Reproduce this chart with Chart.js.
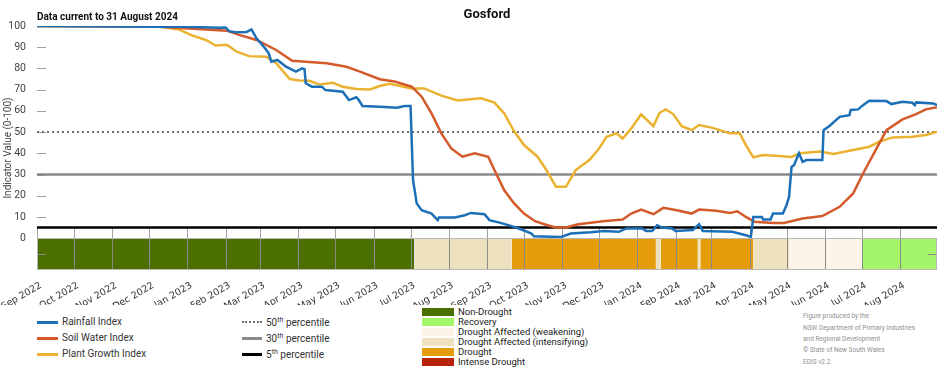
<!DOCTYPE html>
<html><head><meta charset="utf-8">
<script src="https://cdn.jsdelivr.net/npm/chart.js@4/dist/chart.umd.min.js"></script>
<style>
body{margin:0;background:#fff;width:952px;height:370px;position:relative;overflow:hidden;font-family:Roboto,"Liberation Sans",sans-serif;}
#c{position:absolute;left:0;top:0;}
.t{position:absolute;white-space:nowrap;color:#222;line-height:12px;}
.sw{position:absolute;}
sup{font-size:7px;line-height:0;vertical-align:4px;}
</style></head>
<body>
<canvas id="c" width="952" height="305"></canvas>
<div class="t" style="left:437px;width:100px;text-align:center;top:8px;font-weight:bold;font-size:13px;color:#111;">Gosford</div>
<div class="t" style="left:37px;top:11px;font-weight:bold;font-size:10px;color:#111;">Data current to 31 August 2024</div>
<div id="legend"></div>
<script>
// ---------- DATA ----------
const tickLabels = ["Sep 2022","Oct 2022","Nov 2022","Dec 2022","Jan 2023","Feb 2023","Mar 2023","Apr 2023","May 2023","Jun 2023","Jul 2023","Aug 2023","Sep 2023","Oct 2023","Nov 2023","Dec 2023","Jan 2024","Feb 2024","Mar 2024","Apr 2024","May 2024","Jun 2024","Jul 2024","Aug 2024"];
const yTicks = [0,10,20,30,40,50,60,70,80,90,100];
// x values are days since 1 Sep 2022
const rainDay = [0,100,121,148,153,156,162,170,174,178,184,188,190,195,202,210,215,217,218,223,231,234,248,253,259,261,264,278,292,298,303,305,308,312,320,325,326,339,347,352,363,367,376,385,393,401,403,425,433,449,460,472,478,491,494,499,503,507,515,518,532,537,540,564,575,579,581,588,589,595,597,605,608,610,612,614,618,621,624,637,638,643,651,659,660,666,670,675,689,693,702,710,712,713,727,730];
const rainVal = [100,99.7,99.6,99.2,99.3,97.5,97,97.2,98.4,94.2,90.2,87.1,83.2,84,80.8,78.5,80,79.6,73,71.4,71.4,69.8,69,65.1,66.4,65.1,62.3,61.9,61.5,62.3,62.3,27.4,16.4,13.2,11.6,8.5,9.8,9.8,10.8,11.9,11.3,8.5,7.2,5.7,4.1,2.2,0.9,0.6,2.2,2.8,3.4,3.0,4.6,4.6,3.4,3.4,6.1,5.0,4.6,3.4,3.8,6.6,3.4,3.0,1.4,0.6,10,10,8.8,8.8,11.6,11.6,15.6,19.5,33.6,34.4,40,36,36.8,36.8,50.9,53,57.2,58,60.4,60.7,62.7,64.8,64.6,63.2,64.3,63.8,62.7,64,63.5,62.7];
const soilDay = [0,99,137,154,164,178,194,207,218,235,251,262,278,290,304,312,320,328,336,345,355,366,371,379,387,395,404,414,421,429,439,459,475,482,490,500,508,519,531,537,551,562,568,575,582,597,606,621,637,651,662,670,681,689,702,713,721,730];
const soilVal = [100,99.7,98.4,97.8,95.8,93.4,88.7,83.6,83.2,82.4,80.8,78.5,74.9,73.8,71.4,66.7,58.8,49.4,42.3,38.4,40,38.4,32.1,22.6,16.4,11.6,8,6.1,5,5,6.6,8,8.8,11.6,13.5,11.3,14.3,13.2,11.6,13.5,12.9,11.9,12.7,10,7.7,7.2,7.2,9.3,10.4,14.8,21.1,30.5,42.3,50.9,56,58.5,60.7,61.7];
const plantDay = [0,99,115,126,137,145,154,162,172,186,194,205,213,221,229,240,248,259,270,278,286,304,314,328,341,360,371,379,387,395,406,414,421,429,437,448,455,462,470,475,482,490,500,505,510,516,523,531,537,548,562,570,575,581,589,602,612,619,635,646,659,675,683,694,710,721,730];
const plantVal = [100,99.8,98.4,95.5,93.4,90.8,91.2,87.9,85.8,85.5,82.5,75,74.3,74.2,72.4,73.2,71.4,70.3,70.1,71.7,72.8,70.6,70.6,67.2,64.9,65.9,63.9,58.8,50.4,43.9,38.4,31.3,24.2,24.2,32.1,36.8,41.5,47.8,49.4,47,51.7,58.3,52.8,59.1,60.7,58.5,52.8,50.9,53.3,52,49.4,49.4,43.9,38.1,39.2,38.7,38.3,40,40.8,39.7,41.2,43.1,45.4,47.5,47.8,48.6,50.2];
const percentileValues = [50,30,5];
const percentileNames = ["50th percentile","30th percentile","5th percentile"];
const bandStart = [0,306,385,502,506,536,538,581,610,669];
const bandEnd   = [306,385,502,506,536,538,581,610,669,730];
const bandStatus = ["Non-Drought","Drought Affected (intensifying)","Drought","Drought Affected (intensifying)","Drought","Drought Affected (intensifying)","Drought","Drought Affected (intensifying)","Drought Affected (weakening)","Recovery"];
const statusNames = ["Non-Drought","Recovery","Drought Affected (weakening)","Drought Affected (intensifying)","Drought","Intense Drought"];

// ---------- STYLE ----------
const statusColors = {"Non-Drought":"#4b7000","Recovery":"#a5f56b","Drought Affected (weakening)":"#fcf4e7","Drought Affected (intensifying)":"#ede1bf","Drought":"#e49c0b","Intense Drought":"#b9230b"};
const seriesNames = ["Rainfall Index","Soil Water Index","Plant Growth Index"];
const seriesColors = ["#1d70b7","#d35a2a","#ebb22f"];
const pctStyles = [{c:"#707070",w:2,dash:[2,3]},{c:"#8a8a8a",w:2.5,dash:[]},{c:"#000000",w:2.5,dash:[]}];

const monthIdx = {Jan:0,Feb:1,Mar:2,Apr:3,May:4,Jun:5,Jul:6,Aug:7,Sep:8,Oct:9,Nov:10,Dec:11};
const t0 = Date.UTC(2022,8,1);
const tickDays = tickLabels.map(l=>{const [m,y]=l.split(" ");return Math.round((Date.UTC(+y,monthIdx[m],1)-t0)/864e5);});
const XMAX = 730, YMIN = -15;
const pts = (xs,ys)=>xs.map((x,i)=>({x:x,y:ys[i]}));

const datasets = [];
[[rainDay,rainVal],[soilDay,soilVal],[plantDay,plantVal]].forEach((s,i)=>{
  datasets.push({label:seriesNames[i],data:pts(s[0],s[1]),borderColor:seriesColors[i],borderWidth:2.5,pointRadius:0,tension:0,fill:false,order:1});
});
percentileValues.forEach((v,i)=>{
  datasets.push({label:percentileNames[i],data:[{x:0,y:v},{x:XMAX,y:v}],borderColor:pctStyles[i].c,borderWidth:pctStyles[i].w,borderDash:pctStyles[i].dash,pointRadius:0,fill:false,order:5});
});
bandStatus.forEach((s,i)=>{
  datasets.push({label:s,data:[{x:bandStart[i],y:0},{x:bandEnd[i],y:0}],borderWidth:0,borderColor:'rgba(0,0,0,0)',backgroundColor:statusColors[s],pointRadius:0,fill:{value:YMIN},order:10});
});

const decor = {
  id:'decor',
  beforeDatasetsDraw(chart){
    const {ctx,scales:{x,y},chartArea:a}=chart;
    ctx.save();ctx.strokeStyle='#a0a0a0';ctx.lineWidth=1;
    tickDays.forEach(d=>{const px=Math.round(x.getPixelForValue(d))+0.5;ctx.beginPath();ctx.moveTo(px,y.getPixelForValue(5));ctx.lineTo(px,y.getPixelForValue(0));ctx.stroke();});
    yTicks.forEach(v=>{const py=Math.round(y.getPixelForValue(v))+0.5;ctx.beginPath();ctx.moveTo(a.left,py);ctx.lineTo(a.left+9,py);ctx.stroke();});
    ctx.restore();
  },
  afterDatasetsDraw(chart){
    const {ctx,scales:{x,y},chartArea:a}=chart;
    ctx.save();ctx.strokeStyle='#8a8a8a';ctx.lineWidth=1;
    const y0=y.getPixelForValue(0),y1=y.getPixelForValue(YMIN);
    tickDays.forEach(d=>{const px=Math.round(x.getPixelForValue(d))+0.5;ctx.beginPath();ctx.moveTo(px,y0);ctx.lineTo(px,y1);ctx.stroke();});
    const pm=Math.round(y.getPixelForValue(-7.5))+0.5;
    ctx.beginPath();ctx.moveTo(a.left,pm);ctx.lineTo(a.left+9,pm);ctx.moveTo(a.right-9,pm);ctx.lineTo(a.right,pm);ctx.stroke();
    ctx.strokeStyle='#b8b8b8';
    ctx.strokeRect(Math.round(a.left)+0.5,Math.round(y0)+0.5,Math.round(a.right-a.left)-1,Math.round(y1-y0)-1);
    ctx.restore();
  }
};

new Chart(document.getElementById('c'),{
  type:'line',
  data:{datasets:datasets},
  options:{
    responsive:false,animation:false,
    layout:{padding:{top:26,right:15,left:0,bottom:0}},
    plugins:{legend:{display:false},tooltip:{enabled:false},title:{display:false}},
    scales:{
      x:{type:'linear',min:0,max:XMAX,
        afterBuildTicks:s=>{s.ticks=tickDays.map(v=>({value:v}));},
        afterFit:s=>{s.height=35;s.paddingLeft=0;s.paddingRight=0;},
        grid:{display:false},border:{display:false},
        ticks:{autoSkip:false,minRotation:30,maxRotation:30,padding:2,labelOffset:4,color:'#333',font:{family:'DejaVu Sans',size:9.5},callback:(v,i)=>tickLabels[i]}},
      y:{min:YMIN,max:100,
        afterBuildTicks:s=>{s.ticks=yTicks.map(v=>({value:v}));},
        afterFit:s=>{s.width=37;s.paddingTop=0;s.paddingBottom=0;},
        grid:{display:false},border:{display:false},
        ticks:{padding:3,color:'#444',font:{family:'Roboto',size:10.5}},
        title:{display:true,text:'Indicator Value (0-100)',color:'#444',font:{family:'Roboto',size:10},padding:{top:2,bottom:0}}}
    }
  },
  plugins:[decor]
});

// ---------- HTML legend ----------
const L = document.getElementById('legend');
let h = '';
const rowsY = [322,338,354];
seriesNames.forEach((n,i)=>{
  h += `<div class="sw" style="left:37px;top:${rowsY[i]-1.5}px;width:21px;height:3px;background:${seriesColors[i]}"></div>`;
  h += `<div class="t" style="left:62px;top:${rowsY[i]-6}px;font-size:10px;color:#333">${n}</div>`;
});
percentileNames.forEach((n,i)=>{
  const st = pctStyles[i];
  const border = st.dash.length ? `border-top:2px dotted ${st.c};height:0;` : `height:3px;background:${st.c};`;
  h += `<div class="sw" style="left:242px;top:${rowsY[i]-1.5}px;width:20px;${border}"></div>`;
  const num = n.match(/^\d+/)[0], suf = n.slice(num.length,num.length+2), rest = n.slice(num.length+2);
  h += `<div class="t" style="left:266px;top:${rowsY[i]-5}px;font-size:10px;color:#333">${num}<sup>${suf}</sup>${rest}</div>`;
});
statusNames.forEach((n,i)=>{
  const cy = 312.3 + i*9.85;
  h += `<div class="sw" style="left:422px;top:${cy-4}px;width:32px;height:8px;background:${statusColors[n]}"></div>`;
  h += `<div class="t" style="left:458px;top:${cy-6}px;font-size:9.5px;color:#222">${n}</div>`;
});
const credit = ["Figure produced by the","NSW Department of Primary Industries","and Regional Development","\u00A9 State of New South Wales","EDIS v2.2"];
credit.forEach((c,i)=>{
  h += `<div class="t" style="left:803px;top:${316.3+i*11.35-6}px;font-size:6.5px;color:#8f8f8f">${c}</div>`;
});
L.innerHTML = h;
</script>
</body></html>
